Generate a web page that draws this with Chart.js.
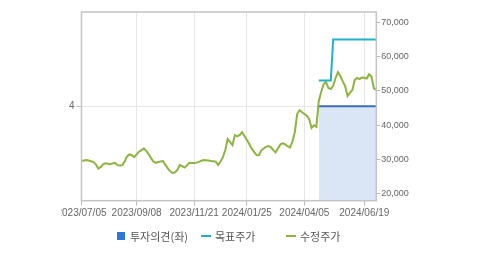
<!DOCTYPE html>
<html>
<head>
<meta charset="utf-8">
<script src="https://cdn.jsdelivr.net/npm/chart.js@4.4.1/dist/chart.umd.min.js"></script>
<style>
  html, body { margin: 0; padding: 0; background: #ffffff; }
  body { width: 479px; height: 254px; position: relative; overflow: hidden; }
  #clip { position: absolute; left: 61px; top: 0; width: 418px; height: 254px; overflow: hidden; }
  #chart { position: absolute; left: -61px; top: 0; }
  #legend { position: absolute; left: 0; top: 226px; width: 479px; height: 20px;
            font-family: "Noto Sans CJK KR", "Noto Sans", sans-serif; font-size: 11px; color: #555; }
  .item { position: absolute; top: 0; height: 20px; display: flex; align-items: center; white-space: nowrap; }
  .sq { width: 8px; height: 8px; margin-right: 5px; }
  .ln { width: 10px; height: 2px; margin-right: 4px; }
</style>
</head>
<body>
<div id="clip"><canvas id="chart" width="479" height="254"></canvas></div>
<div id="legend"></div>
<script>
// ---- data ----
const dates = ['2023/07/05', '2023/09/08', '2023/11/21', '2024/01/25', '2024/04/05', '2024/06/19'];
const dateIndex = [0, 23, 47, 69, 93, 118];

// 수정주가 (adjusted price), one value per ~2 trading days
const price = [
  29570, 29710, 29860, 29690, 29510, 29250, 28580, 27380, 27790, 28580,
  28930, 28760, 28640, 28870, 29020, 28370, 28260, 28370, 29370, 30910,
  31490, 31260, 30680, 31490, 32280, 32750, 33210, 32510, 31580, 30390,
  29420, 29020, 29280, 29450, 29570, 28430, 27410, 26570, 26070, 26250,
  26970, 28400, 28050, 27640, 28290, 29020, 28960, 28960, 29100, 29310,
  29630, 29830, 29770, 29710, 29600, 29510, 29390, 28400, 29420, 30680,
  32780, 35950, 35080, 34230, 37120, 36770, 37180, 37960, 36860, 35720,
  34520, 33180, 32250, 31320, 31260, 32600, 33210, 33680, 33910, 33620,
  32720, 32050, 33300, 34410, 34700, 34410, 33880, 33500, 35250, 37960,
  43330, 44380, 43760, 43270, 42800, 41750, 39190, 40000, 39570, 47060,
  49680, 51900, 52630, 50850, 50560, 51490, 53760, 55450, 54320, 52770,
  51370, 48520, 49420, 50270, 53210, 53760, 53440, 53910, 53850, 53590,
  54870, 54110, 50760, 50270
];

// 목표주가 (target price) points
const targetIdx = [99, 104, 105, 123];
const targetVal = [53000, 53000, 65000, 65000];

// 투자의견 (investment opinion, left axis)
const opinionIdx = [99, 123];
const opinionVal = [4, 4];

const priceTicks = [20000, 30000, 40000, 50000, 60000, 70000];
const opinionTicks = [4];

const legendItems = [
  { label: '투자의견(좌)', kind: 'sq', color: '#2b78d6', left: 117 },
  { label: '목표주가', kind: 'ln', color: '#1fb2c8', left: 201 },
  { label: '수정주가', kind: 'ln', color: '#8cb43e', left: 286 }
];

// ---- chart ----
const tickFont = { family: '"Liberation Sans", Arial, sans-serif', size: 10 };

const frame = {
  id: 'frame',
  afterDraw(chart) {
    const a = chart.chartArea, c = chart.ctx;
    c.save();
    c.strokeStyle = '#c4c4c4';
    c.lineWidth = 1.5;
    c.strokeRect(a.left, a.top, a.right - a.left, a.bottom - a.top);
    c.restore();
  }
};

new Chart(document.getElementById('chart'), {
  type: 'line',
  data: {
    datasets: [
      {
        label: '목표주가',
        data: targetIdx.map((x, i) => ({ x, y: targetVal[i] })),
        yAxisID: 'y2',
        borderColor: '#1fb2c8',
        borderWidth: 2,
        pointRadius: 0,
        fill: false
      },
      {
        label: '수정주가',
        data: price.map((y, x) => ({ x, y })),
        yAxisID: 'y2',
        borderColor: '#8cb43e',
        borderWidth: 2,
        pointRadius: 0,
        tension: 0,
        fill: false
      },
      {
        label: '투자의견(좌)',
        data: opinionIdx.map((x, i) => ({ x, y: opinionVal[i] })),
        yAxisID: 'y',
        borderColor: '#3d6db6',
        borderWidth: 2,
        backgroundColor: '#dae5f6',
        pointRadius: 0,
        fill: 'origin'
      }
    ]
  },
  options: {
    responsive: false,
    animation: false,
    layout: { padding: { top: 12, left: 0, right: 0, bottom: 0 } },
    plugins: { legend: { display: false }, tooltip: { enabled: false } },
    scales: {
      x: {
        type: 'linear',
        min: 0,
        max: price.length - 1,
        afterBuildTicks: s => { s.ticks = dateIndex.map(v => ({ value: v })); },
        afterFit: s => { s.height = 53.3; },
        ticks: {
          autoSkip: false, maxRotation: 0, padding: 2,
          font: tickFont, color: '#666',
          callback: (v, i) => dates[i]
        },
        grid: { color: '#e6e6e6', tickColor: '#bbb', tickLength: 5 },
        border: { display: false }
      },
      y: {
        position: 'left',
        min: 0, max: 8,
        afterBuildTicks: s => { s.ticks = opinionTicks.map(v => ({ value: v })); },
        afterFit: s => { s.width = 81.5; },
        ticks: { font: tickFont, color: '#666', padding: 2 },
        grid: { color: '#e6e6e6', tickColor: '#bbb', tickLength: 5 },
        border: { display: false }
      },
      y2: {
        position: 'right',
        min: 18000, max: 73000,
        afterBuildTicks: s => { s.ticks = priceTicks.map(v => ({ value: v })); },
        afterFit: s => { s.width = 102.7; },
        ticks: {
          font: { family: '"Liberation Sans", Arial, sans-serif', size: 9 },
          color: '#666', padding: 1,
          callback: v => v.toLocaleString('en-US')
        },
        grid: { drawOnChartArea: false, tickColor: '#bbb', tickLength: 4 },
        border: { display: false }
      }
    }
  },
  plugins: [frame]
});

// ---- legend ----
const lg = document.getElementById('legend');
legendItems.forEach(it => {
  const d = document.createElement('div');
  d.className = 'item';
  d.style.left = it.left + 'px';
  const m = document.createElement('span');
  m.className = it.kind;
  m.style.background = it.color;
  d.appendChild(m);
  const t = document.createElement('span');
  t.textContent = it.label;
  d.appendChild(t);
  lg.appendChild(d);
});
</script>
</body>
</html>
